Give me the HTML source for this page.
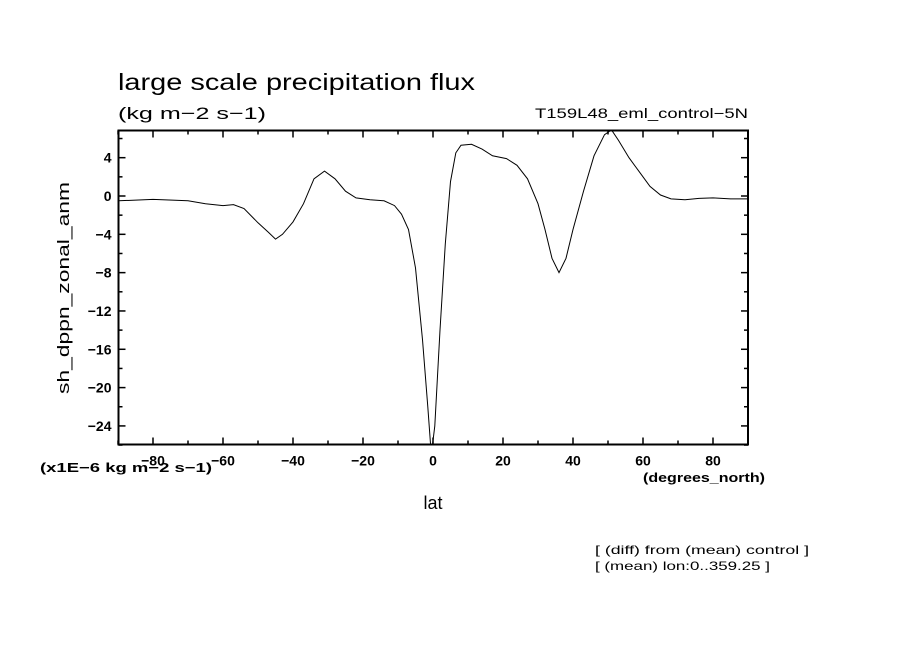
<!DOCTYPE html>
<html><head><meta charset="utf-8"><style>
body{margin:0;background:#fff;}
svg{display:block;font-family:"Liberation Sans",sans-serif;}
</style></head><body>
<svg width="904" height="654" viewBox="0 0 904 654">
<rect width="904" height="654" fill="#fff"/>
<text x="118" y="90" font-size="23" textLength="357" lengthAdjust="spacingAndGlyphs">large scale precipitation flux</text>
<text x="118" y="119" font-size="17" textLength="148" lengthAdjust="spacingAndGlyphs">(kg m−2 s−1)</text>
<text x="748" y="118" font-size="14" text-anchor="end" textLength="213" lengthAdjust="spacingAndGlyphs">T159L48_eml_control−5N</text>
<g id="axes"></g>
<g id="plot"></g>
<text transform="translate(69,288) rotate(-90)" font-size="17" text-anchor="middle" textLength="212" lengthAdjust="spacingAndGlyphs">sh_dppn_zonal_anm</text>
<text x="40" y="472" font-size="13" font-weight="bold" textLength="172" lengthAdjust="spacingAndGlyphs">(x1E−6 kg m−2 s−1)</text>
<text x="765" y="482" font-size="13" font-weight="bold" text-anchor="end" textLength="122" lengthAdjust="spacingAndGlyphs">(degrees_north)</text>
<text x="433" y="509" font-size="18" text-anchor="middle">lat</text>
<text x="595" y="554" font-size="12" textLength="214" lengthAdjust="spacingAndGlyphs">[ (diff) from (mean) control ]</text>
<text x="595" y="570" font-size="12" textLength="175" lengthAdjust="spacingAndGlyphs">[ (mean) lon:0..359.25 ]</text>
</svg>
<script>
const lats=[-90,-80,-70,-65,-60,-57,-54,-50,-47,-45,-43,-40,-37,-34,-31,-28,-25,-22,-18,-14,-11,-9,-7,-5,-3,-1.5,-0.5,0.5,2,3.5,5,6.5,8,11,14,17,21,24,27,30,32,34,36,38,40,43,46,49,51,53,56,59,62,65,68,72,76,80,85,90];
const vals=[-0.5,-0.35,-0.5,-0.8,-1.0,-0.9,-1.3,-2.8,-3.8,-4.5,-4.0,-2.7,-0.8,1.8,2.6,1.8,0.5,-0.2,-0.4,-0.5,-1.0,-1.9,-3.5,-7.5,-15,-22,-27,-24,-14,-5,1.5,4.5,5.3,5.4,4.9,4.2,3.9,3.2,1.8,-0.8,-3.5,-6.5,-8.0,-6.5,-3.5,0.5,4.2,6.4,6.9,5.8,4.0,2.5,1.0,0.1,-0.3,-0.4,-0.25,-0.2,-0.3,-0.3];
const xTicks=[-80,-60,-40,-20,0,20,40,60,80];
const yTicks=[4,0,-4,-8,-12,-16,-20,-24];
const NS="http://www.w3.org/2000/svg";
const L=118.5,R=748,T=130.5,B=444.5;
const xs=v=>433+v*3.5;
const ys=v=>196-v*9.58;
function mk(t,a,p){const e=document.createElementNS(NS,t);for(const k in a)e.setAttribute(k,a[k]);p.appendChild(e);return e;}
const ax=document.getElementById('axes'),pl=document.getElementById('plot');
const frame=mk('rect',{x:L,y:T,width:R-L,height:B-T,fill:'none',stroke:'#000','stroke-width':2},ax);


for(let v=-90;v<=90;v+=10){const x=xs(v);const len=(v%20===0)?7:4;
 const t1=mk('line',{x1:x,x2:x,y1:B,y2:B-len,stroke:'#000','stroke-width':1.5},ax);
 
 
 const t2=mk('line',{x1:x,x2:x,y1:T,y2:T+len,stroke:'#000','stroke-width':1.5},ax);
 
 }
for(let v=-26;v<=6;v+=2){const y=ys(v);const len=(v%4===0)?7:4;
 const t1=mk('line',{x1:L,x2:L+len,y1:y,y2:y,stroke:'#000','stroke-width':1.5},ax);
 
 
 const t2=mk('line',{x1:R,x2:R-len,y1:y,y2:y,stroke:'#000','stroke-width':1.5},ax);
 
 }
xTicks.forEach(v=>{const t=mk('text',{x:xs(v),y:B+21,'font-size':14,'font-weight':'bold','text-anchor':'middle'},ax);t.textContent=String(v).replace('-','−');
 
 });
yTicks.forEach(v=>{const t=mk('text',{x:L-7,y:ys(v)+5,'font-size':14,'font-weight':'bold','text-anchor':'end'},ax);t.textContent=String(v).replace('-','−');
 
 });
const cp=mk('clipPath',{id:'clip'},pl);mk('rect',{x:L,y:T,width:R-L,height:B-T},cp);
const d=lats.map((la,i)=>(i?'L':'M')+xs(la).toFixed(1)+','+ys(vals[i]).toFixed(1)).join(' ');
const line=mk('path',{d:d,fill:'none',stroke:'#000','stroke-width':1,'clip-path':'url(#clip)'},pl);


</script>
</body></html>
